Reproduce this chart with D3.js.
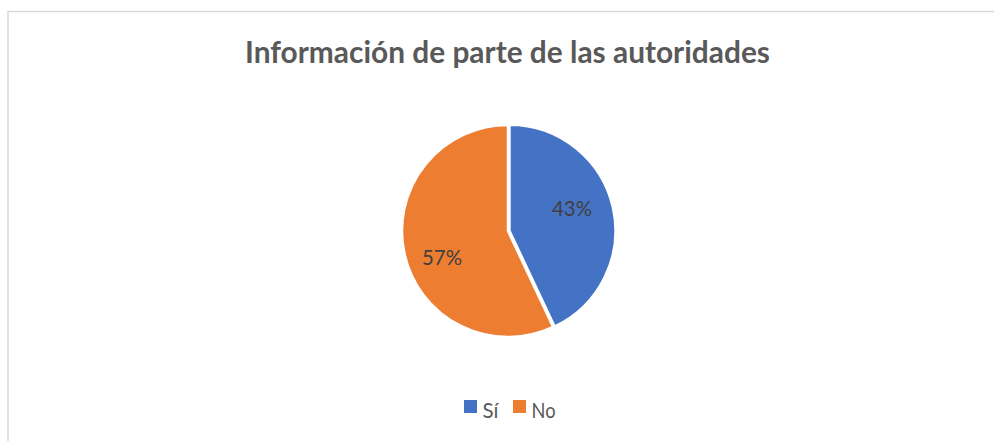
<!DOCTYPE html>
<html><head><meta charset="utf-8">
<script src="https://cdn.jsdelivr.net/npm/d3@7"></script>
<style>body{margin:0;background:#fff}svg{display:block}</style>
</head><body>
<svg id="c" width="994" height="441"></svg>
<script>
const categories = ["Sí", "No"];
const values = [43, 57];
const labels = ["43%", "57%"];
const colors = ["#4472c4", "#ed7d31"];
const title = "Información de parte de las autoridades";

const svg = d3.select("#c");
const FONT = "Lato, 'Open Sans', sans-serif";

svg.append("rect").attr("x", 8).attr("y", 11.5).attr("width", 1100).attr("height", 600)
  .attr("fill", "none").attr("stroke", "#d9d9d9").attr("stroke-width", 1.5);

function fit(t, w) {
  t.attr("textLength", w).attr("lengthAdjust", "spacingAndGlyphs");
}

const tt = svg.append("text").attr("x", 507.5).attr("y", 63).attr("text-anchor", "middle")
  .attr("font-family", FONT).attr("font-weight", "bold").attr("font-size", 30)
  .attr("fill", "#595959").text(title);
fit(tt, 525);

const cx = 508, cy = 231, r = 106;
const pie = d3.pie().sort(null).value(d => d)(values);
const arc = d3.arc().innerRadius(0).outerRadius(r);
const g = svg.append("g").attr("transform", `translate(${cx},${cy})`);
g.selectAll("path").data(pie).join("path")
  .attr("d", arc)
  .attr("fill", (d, i) => colors[i])
  .attr("stroke", "#fff").attr("stroke-width", 2.5).attr("stroke-linejoin", "miter")
  .attr("transform", (d, i) => {
    if (i !== 0) return null;
    const a = (d.startAngle + d.endAngle) / 2;
    return `translate(${1.5 * Math.sin(a)},${-1.5 * Math.cos(a)})`;
  });

g.selectAll("text.lbl").data(pie).join("text").attr("class", "lbl")
  .attr("text-anchor", "middle").attr("font-family", FONT).attr("font-size", 22)
  .attr("fill", "#404040")
  .attr("x", (d, i) => [64, -66][i])
  .attr("y", (d, i) => [-15, 34][i])
  .text((d, i) => labels[i])
  .each(function () { fit(d3.select(this), 40); });

const leg = svg.append("g");
const legX = [464, 513];
categories.forEach((c, i) => {
  leg.append("rect").attr("x", legX[i]).attr("y", 400).attr("width", 13).attr("height", 13)
    .attr("fill", colors[i]);
  const t = leg.append("text").attr("x", legX[i] + 18.5).attr("y", 418)
    .attr("font-family", FONT).attr("font-size", 22).attr("fill", "#595959").text(c);
  fit(t, i === 0 ? 16 : 24);
});
</script>
</body></html>
